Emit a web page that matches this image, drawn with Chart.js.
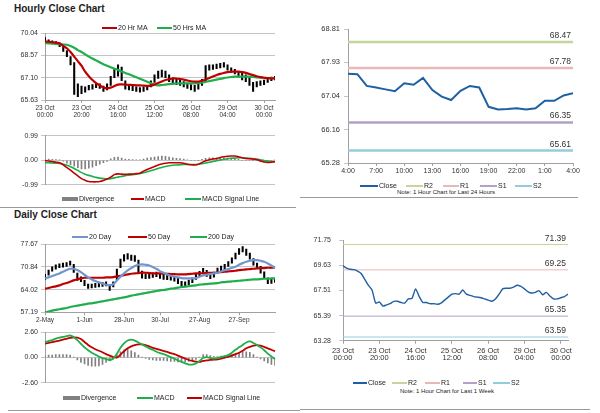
<!DOCTYPE html>
<html>
<head>
<meta charset="utf-8">
<script src="https://cdn.jsdelivr.net/npm/chart.js@4.4.0/dist/chart.umd.min.js"></script>
<style>
body { margin: 0; width: 600px; height: 413px; background: #fff; position: relative; overflow: hidden; font-family: "Liberation Sans", Arial, sans-serif; color: #222; }
canvas { position: absolute; }
.title { position: absolute; font-weight: bold; font-size: 10px; line-height: 12px; }
.lg { position: absolute; font-size: 7px; line-height: 8px; white-space: nowrap; color: #222; }
.mk { position: absolute; }
.note { position: absolute; font-size: 6px; line-height: 7px; white-space: nowrap; color: #222; transform: translateX(-50%); }
.sep { position: absolute; height: 1px; background: #9a9a9a; }
</style>
</head>
<body>
<div class="title" style="left:14px;top:3px">Hourly Close Chart</div>
<div class="title" style="left:14px;top:209px">Daily Close Chart</div>
<div class="sep" style="left:0;top:207px;width:296px"></div>
<div class="sep" style="left:300px;top:197px;width:278px"></div>
<div class="sep" style="left:8px;top:410px;width:292px"></div>
<div class="sep" style="left:300px;top:409px;width:290px"></div>

<canvas id="cA" width="290" height="100" style="left:0;top:25px"></canvas>
<canvas id="cB" width="290" height="64" style="left:0;top:128px"></canvas>
<canvas id="cC" width="290" height="160" style="left:300px;top:18px"></canvas>
<canvas id="cD" width="290" height="100" style="left:0;top:236px"></canvas>
<canvas id="cE" width="290" height="66" style="left:0;top:324px"></canvas>
<canvas id="cF" width="290" height="140" style="left:300px;top:228px"></canvas>

<div class="note" style="left:446px;top:189px">Note: 1 Hour Chart for Last 24 Hours</div>
<div class="note" style="left:447px;top:388px">Note: 1 Hour Chart for Last 1 Week</div>

<script>
// ---- hourly close chart, 2 hour steps from 23 Oct 00:00
const hrTickLabels = [['23 Oct', '00:00'], ['23 Oct', '20:00'], ['24 Oct', '16:00'], ['25 Oct', '12:00'], ['26 Oct', '08:00'], ['29 Oct', '04:00'], ['30 Oct', '00:00']];
const hrPriceTicks = [65.63, 67.10, 68.57, 70.04];
const hrLow = [69.45, 69.4, 69.35, 69.3, 69.15, 68.85, 68.5, 67.95, 66.0, 65.85,
    66.05, 66.15, 66.3, 66.35, 66.45, 66.4, 66.2, 66.3, 66.6, 67.1,
    67.2, 66.9, 66.35, 66.3, 66.25, 66.2, 66.15, 66.2, 66.3, 66.5,
    66.8, 67.05, 67.15, 67.1, 66.85, 66.7, 66.65, 66.6, 66.5, 66.4,
    66.3, 66.2, 66.35, 66.6, 66.9, 67.6, 67.65, 67.7, 67.75, 67.8,
    67.6, 67.45, 67.35, 67.15, 66.95, 66.85, 66.6, 66.2, 66.5, 66.6,
    66.65, 66.8, 66.9, 66.95];
const hrHigh = [69.75, 69.6, 69.55, 69.5, 69.4, 69.2, 68.9, 68.5, 68.1, 66.7,
    66.55, 66.5, 66.6, 66.65, 66.75, 66.7, 66.55, 66.7, 67.2, 67.7,
    67.95, 67.8, 66.9, 66.6, 66.55, 66.5, 66.45, 66.5, 66.6, 66.9,
    67.3, 67.55, 67.6, 67.55, 67.3, 67.1, 67.0, 66.95, 66.85, 66.75,
    66.65, 66.6, 66.7, 67.0, 67.9, 67.95, 67.95, 68.0, 68.05, 68.1,
    67.95, 67.75, 67.65, 67.5, 67.4, 67.3, 67.1, 66.8, 66.85, 66.9,
    66.95, 67.1, 67.15, 67.2];
const hrMA20 = [69.5, 69.48, 69.45, 69.42, 69.38, 69.2, 69.05, 68.8, 68.5, 68.2,
    67.9, 67.5, 67.2, 66.95, 66.75, 66.6, 66.45, 66.4, 66.45, 66.55,
    66.65, 66.66, 66.65, 66.63, 66.62, 66.6, 66.6, 66.58, 66.57, 66.58,
    66.65, 66.75, 66.85, 66.95, 67.0, 67.05, 67.05, 67.02, 66.98, 66.92,
    66.87, 66.84, 66.85, 66.9, 66.98, 67.08, 67.18, 67.28, 67.36, 67.42,
    67.47, 67.5, 67.5, 67.5, 67.47, 67.42, 67.35, 67.28, 67.2, 67.14,
    67.1, 67.07, 67.06, 67.07];
const hrMA50 = [69.4, 69.38, 69.36, 69.34, 69.32, 69.3, 69.28, 69.2, 69.08, 68.93,
    68.8, 68.65, 68.5, 68.38, 68.25, 68.12, 68.0, 67.9, 67.8, 67.7,
    67.62, 67.52, 67.42, 67.33, 67.24, 67.14, 67.04, 66.94, 66.84, 66.74,
    66.64, 66.6, 66.62, 66.65, 66.68, 66.7, 66.72, 66.73, 66.73, 66.73,
    66.73, 66.73, 66.74, 66.78, 66.83, 66.88, 66.93, 66.98, 67.03, 67.08,
    67.12, 67.15, 67.17, 67.18, 67.18, 67.18, 67.17, 67.15, 67.13, 67.11,
    67.1, 67.08, 67.07, 67.07];
const hrMacdTicks = [-0.99, 0, 0.99];
const hrMacd = [-0.02, -0.03, -0.05, -0.08, -0.1, -0.18, -0.3, -0.4, -0.52, -0.63,
    -0.74, -0.81, -0.86, -0.87, -0.87, -0.86, -0.82, -0.76, -0.68, -0.58,
    -0.55, -0.56, -0.57, -0.56, -0.56, -0.54, -0.52, -0.44, -0.37, -0.31,
    -0.25, -0.19, -0.15, -0.12, -0.1, -0.1, -0.1, -0.1, -0.12, -0.16,
    -0.18, -0.19, -0.16, -0.09, -0.02, 0.02, 0.05, 0.07, 0.11, 0.14,
    0.16, 0.17, 0.17, 0.14, 0.1, 0.07, 0.06, 0.05, 0.03, -0.03,
    -0.07, -0.09, -0.08, -0.05];
const hrSignal = [-0.1, -0.1, -0.11, -0.12, -0.13, -0.16, -0.2, -0.26, -0.33, -0.41,
    -0.5, -0.56, -0.61, -0.65, -0.69, -0.72, -0.74, -0.75, -0.74, -0.71,
    -0.68, -0.65, -0.62, -0.6, -0.58, -0.56, -0.53, -0.5, -0.46, -0.42,
    -0.38, -0.33, -0.29, -0.25, -0.22, -0.2, -0.19, -0.18, -0.17, -0.17,
    -0.17, -0.17, -0.16, -0.14, -0.11, -0.08, -0.05, -0.02, 0.01, 0.04,
    0.06, 0.08, 0.09, 0.1, 0.1, 0.09, 0.08, 0.06, 0.04, 0.02,
    -0.01, -0.03, -0.05, -0.07];
const hrDiv = [0.05, 0.05, 0.04, 0.03, 0.01, -0.04, -0.12, -0.18, -0.24, -0.3,
    -0.35, -0.35, -0.32, -0.28, -0.22, -0.16, -0.1, -0.05, 0.06, 0.12,
    0.13, 0.09, 0.05, 0.04, 0.03, 0.02, 0.02, 0.05, 0.09, 0.11,
    0.13, 0.15, 0.17, 0.16, 0.13, 0.1, 0.08, 0.07, 0.05, 0.02,
    0.0, -0.02, -0.01, 0.04, 0.08, 0.1, 0.1, 0.09, 0.1, 0.1,
    0.1, 0.09, 0.08, 0.04, 0.0, -0.02, -0.02, -0.01, -0.01, -0.05,
    -0.06, -0.06, -0.03, 0.02];

// ---- last 24 hours
const h24TickLabels = ['4:00', '7:00', '10:00', '13:00', '16:00', '19:00', '22:00', '1:00', '4:00'];
const h24Ticks = [65.28, 66.16, 67.04, 67.93, 68.81];
const h24Close = [67.63, 67.62, 67.31, 67.27, 67.22, 67.17, 67.38, 67.34, 67.52, 67.20,
    67.03, 66.94, 67.18, 67.31, 67.27, 66.76, 66.69, 66.70, 66.72, 66.69,
    66.72, 66.92, 66.92, 67.06, 67.12];
const h24Pivots = [68.47, 67.78, 66.35, 65.61]; // R2, R1, S1, S2

// ---- daily close chart, 2 trading day steps from 2-May
const dayTickLabels = ['2-May', '1-Jun', '28-Jun', '30-Jul', '27-Aug', '27-Sep'];
const dayTickIdx = [0, 11, 22, 32, 43, 54];
const dayPriceTicks = [57.19, 64.02, 70.84, 77.67];
const dayLow = [67.0, 68.4, 69.6, 70.2, 70.6, 70.8, 71.0, 71.4, 69.2, 66.8,
    66.4, 65.2, 64.4, 64.5, 64.7, 64.8, 65.0, 65.1, 63.8, 64.8,
    67.0, 70.6, 72.6, 73.2, 72.8, 72.5, 69.0, 67.5, 67.3, 67.4,
    67.7, 67.9, 67.4, 67.1, 67.0, 66.9, 66.6, 65.8, 64.9, 65.0,
    65.5, 66.1, 67.1, 68.0, 68.9, 68.0, 67.3, 67.8, 69.0, 69.6,
    70.1, 71.0, 72.0, 73.3, 74.6, 75.4, 74.3, 73.2, 71.4, 70.5,
    69.0, 67.3, 65.8, 65.9, 66.2];
const dayHigh = [68.6, 69.9, 70.9, 71.5, 71.8, 72.0, 72.2, 72.6, 71.6, 69.0,
    67.9, 66.8, 65.7, 65.7, 65.9, 66.0, 66.2, 66.4, 65.4, 66.4,
    70.2, 73.2, 74.6, 74.9, 74.4, 74.3, 72.9, 69.6, 68.8, 68.8,
    69.1, 69.3, 68.9, 68.6, 68.4, 68.3, 68.1, 67.4, 66.5, 66.4,
    66.9, 67.6, 68.6, 69.5, 70.4, 69.8, 68.8, 69.3, 70.5, 71.1,
    71.6, 72.5, 73.6, 75.0, 76.4, 77.0, 76.2, 75.0, 73.4, 72.0,
    71.0, 69.4, 67.6, 67.3, 67.5];
const dayMA20 = [67.4, 67.7, 68.1, 68.5, 68.9, 69.4, 69.9, 70.3, 70.3, 69.9,
    69.3, 68.5, 67.7, 67.1, 66.6, 66.2, 65.9, 65.5, 65.4, 65.6,
    66.8, 67.9, 68.9, 69.8, 70.5, 71.1, 71.5, 71.6, 71.5, 71.3,
    70.8, 70.3, 69.6, 69.1, 68.6, 68.2, 67.9, 67.7, 67.5, 67.4,
    67.4, 67.4, 67.5, 67.9, 68.3, 68.5, 68.7, 68.9, 69.1, 69.5,
    69.9, 70.2, 70.6, 70.9, 71.5, 72.0, 72.4, 72.7, 72.9, 72.9,
    72.7, 72.4, 71.9, 71.3, 70.6];
const dayMA50 = [64.3, 64.5, 64.8, 65.0, 65.3, 65.7, 66.0, 66.4, 66.8, 67.1,
    67.4, 67.6, 67.6, 67.6, 67.6, 67.6, 67.6, 67.7, 67.7, 67.8,
    68.0, 68.2, 68.4, 68.6, 68.8, 68.9, 69.0, 69.1, 69.1, 69.0,
    68.9, 68.9, 68.9, 68.8, 68.8, 68.7, 68.7, 68.6, 68.6, 68.6,
    68.7, 68.8, 68.9, 68.9, 69.0, 69.0, 69.1, 69.1, 69.2, 69.3,
    69.4, 69.5, 69.6, 69.7, 69.9, 70.0, 70.1, 70.2, 70.3, 70.4,
    70.5, 70.5, 70.6, 70.6, 70.7];
const dayMA200 = [57.2, 57.4, 57.7, 57.9, 58.1, 58.3, 58.5, 58.8, 59.0, 59.2,
    59.4, 59.6, 59.8, 59.9, 60.1, 60.3, 60.5, 60.7, 60.9, 61.1,
    61.3, 61.5, 61.7, 61.9, 62.2, 62.4, 62.6, 62.8, 63.0, 63.2,
    63.4, 63.6, 63.8, 63.9, 64.1, 64.3, 64.4, 64.6, 64.8, 64.9,
    65.1, 65.2, 65.3, 65.5, 65.6, 65.7, 65.8, 65.9, 66.0, 66.2,
    66.3, 66.4, 66.5, 66.6, 66.7, 66.8, 66.9, 67.0, 67.1, 67.1,
    67.2, 67.3, 67.3, 67.4, 67.4];
const dayMacdTicks = [-2.60, 0, 2.60];
const dayMacd = [1.6, 1.7, 1.8, 1.95, 2.05, 2.12, 2.2, 2.27, 2.1, 1.8,
    1.4, 1.05, 0.75, 0.5, 0.3, 0.1, -0.05, -0.15, -0.25, -0.1,
    0.4, 1.0, 1.45, 1.75, 1.85, 1.75, 1.55, 1.35, 1.15, 0.95,
    0.8, 0.6, 0.45, 0.35, 0.2, 0.05, -0.1, -0.3, -0.45, -0.6,
    -0.72, -0.72, -0.6, -0.35, -0.05, 0.05, -0.05, -0.1, -0.05, 0.05,
    0.15, 0.25, 0.5, 0.8, 1.05, 1.3, 1.55, 1.66, 1.5, 1.3,
    1.05, 0.75, 0.4, 0.1, -0.15];
const daySignal = [1.44, 1.5, 1.58, 1.66, 1.75, 1.84, 1.93, 2.02, 2.08, 2.05,
    1.9, 1.6, 1.3, 1.05, 0.85, 0.7, 0.55, 0.35, 0.2, 0.05,
    0.0, 0.3, 0.65, 0.95, 1.15, 1.28, 1.35, 1.35, 1.28, 1.15,
    1.0, 0.9, 0.78, 0.68, 0.58, 0.45, 0.35, 0.2, 0.05, -0.1,
    -0.25, -0.35, -0.42, -0.45, -0.35, -0.3, -0.25, -0.22, -0.18, -0.1,
    0.0, 0.1, 0.2, 0.35, 0.5, 0.7, 0.95, 1.1, 1.22, 1.28,
    1.22, 1.1, 0.95, 0.8, 0.64];
const dayDiv = [0.2, 0.25, 0.25, 0.3, 0.3, 0.3, 0.3, 0.25, 0.05, -0.25,
    -0.5, -0.65, -0.8, -0.9, -0.9, -0.85, -0.7, -0.5, -0.35, -0.15,
    0.3, 0.6, 0.8, 0.85, 0.7, 0.5, 0.25, 0.05, -0.1, -0.2,
    -0.25, -0.3, -0.3, -0.3, -0.35, -0.4, -0.4, -0.45, -0.45, -0.45,
    -0.4, -0.35, -0.2, 0.05, 0.3, 0.3, 0.2, 0.1, 0.1, 0.15,
    0.15, 0.2, 0.3, 0.4, 0.5, 0.6, 0.6, 0.55, 0.3, 0.05,
    -0.15, -0.35, -0.55, -0.7, -0.8];

// ---- last week, 2 hour steps
const wkTickLabels = [['23 Oct', '00:00'], ['23 Oct', '20:00'], ['24 Oct', '16:00'], ['25 Oct', '12:00'], ['26 Oct', '08:00'], ['29 Oct', '04:00'], ['30 Oct', '00:00']];
const wkTicks = [63.28, 65.39, 67.51, 69.63, 71.75];
const wkClose = [69.6, 69.4, 69.3, 69.27, 69.15, 68.95, 68.45, 67.95, 67.55, 66.45,
    66.55, 66.2, 66.3, 66.4, 66.6, 66.6, 66.5, 66.45, 66.8, 66.85,
    67.65, 67.0, 66.5, 66.5, 66.4, 66.4, 66.35, 66.45, 66.7, 66.95,
    67.2, 67.25, 67.2, 67.55, 67.2, 67.1, 67.0, 66.95, 66.9, 66.8,
    66.7, 66.6, 66.8, 67.2, 67.65, 67.7, 67.7, 67.8, 67.95, 67.85,
    67.65, 67.4, 67.3, 67.35, 67.5, 67.15, 67.35, 67.05, 66.8, 66.8,
    66.9, 67.0, 67.2];
const wkPivots = [71.39, 69.25, 65.35, 63.59]; // R2, R1, S1, S2

const RED = '#c00000', GREEN = '#1fae4b', BLUE = '#6f96cd', CLOSE = '#1f5fa3', DIV = '#808080';
const PIV = ['#c3d69b', '#e6b9b8', '#b3a2c7', '#93cddd'];
const PIVNAMES = ['R2', 'R1', 'S1', 'S2'];
const GRID = '#c4c4c4', AXIS = '#a0a0a0';

Chart.defaults.font.family = '"Liberation Sans", Arial, sans-serif';
Chart.defaults.font.size = 7;
Chart.defaults.color = '#333';

// labels drawn above the pivot lines at the right end
const pivotLabels = {
    id: 'pivotLabels',
    afterDatasetsDraw(chart, args, o) {
        const ctx = chart.ctx;
        ctx.save();
        ctx.font = o.size + 'px "Liberation Sans", Arial';
        ctx.fillStyle = '#333';
        ctx.textAlign = 'right';
        ctx.textBaseline = 'bottom';
        o.values.forEach(v => ctx.fillText(v.toFixed(2), chart.chartArea.right - 2, chart.scales.y.getPixelForValue(v) - 2));
        ctx.restore();
    }
};

function yScale(ticks, width, grid, tickPad, size) {
    return {
        min: ticks[0], max: ticks[ticks.length - 1],
        afterBuildTicks(a) { a.ticks = ticks.map(v => ({ value: v })); },
        afterFit(a) { a.width = width; },
        ticks: { callback: v => v.toFixed(2), padding: tickPad, font: { size: size } },
        grid: { color: GRID, drawOnChartArea: grid, tickLength: 4 },
        border: { color: AXIS }
    };
}

function xScale(height, cb, size, pad, lh) {
    return {
        offset: false,
        afterFit(a) { a.height = height; },
        ticks: { autoSkip: false, maxRotation: 0, padding: pad, callback: cb, font: { size: size, lineHeight: lh } },
        grid: { drawOnChartArea: false, tickLength: 3, color: AXIS, offset: false },
        border: { color: AXIS }
    };
}

function baseOptions(pad, scales, extra) {
    return Object.assign({
        responsive: false, animation: false, events: [],
        layout: { padding: pad },
        plugins: { legend: { display: false }, tooltip: { enabled: false } },
        scales: scales
    }, extra || {});
}

function line(data, color, width, order) {
    return { type: 'line', data: data, borderColor: color, borderWidth: width, pointRadius: 0, tension: 0.35, order: order, fill: false };
}

function pivotSets(values, n, width) {
    return values.map((v, k) => ({
        type: 'line', label: PIVNAMES[k],
        data: [{ x: 0, y: v }, { x: n - 1, y: v }],
        borderColor: PIV[k], borderWidth: width, pointRadius: 0, order: 5
    }));
}

// hourly price
new Chart(document.getElementById('cA'), {
    type: 'bar',
    data: {
        labels: hrLow.map((v, i) => i),
        datasets: [
            line(hrMA20, RED, 2.2, 0),
            line(hrMA50, GREEN, 2.2, 1),
            { data: hrLow.map((v, i) => [v, hrHigh[i]]), backgroundColor: '#000', barThickness: 1.4, order: 2 }
        ]
    },
    options: baseOptions({ left: 0, right: 15, top: 8.3, bottom: 0 }, {
        x: xScale(25, (v, i) => i % 10 === 0 ? hrTickLabels[i / 10] : null, 6.5, 1, 1.2),
        y: yScale(hrPriceTicks, 45, true, 3, 7)
    })
});

// hourly MACD
new Chart(document.getElementById('cB'), {
    type: 'bar',
    data: {
        labels: hrMacd.map((v, i) => i),
        datasets: [
            line(hrMacd, RED, 1.6, 0),
            line(hrSignal, GREEN, 1.6, 1),
            { data: hrDiv, backgroundColor: DIV, barThickness: 1, order: 2 }
        ]
    },
    options: baseOptions({ left: 0, right: 15, top: 7.7, bottom: 3 }, {
        x: { display: false, offset: false },
        y: yScale(hrMacdTicks, 45, true, 3, 7)
    })
});

// last 24 hours with pivots
new Chart(document.getElementById('cC'), {
    type: 'line',
    data: {
        labels: h24Close.map((v, i) => i),
        datasets: [{ data: h24Close, borderColor: CLOSE, borderWidth: 2, pointRadius: 0, tension: 0, order: 0 }]
            .concat(pivotSets(h24Pivots, h24Close.length, 2.5))
    },
    plugins: [pivotLabels],
    options: baseOptions({ left: 0, right: 17, top: 11, bottom: 0 }, {
        x: Object.assign(xScale(15, null, 7, 1, 1), { type: 'linear', min: 0, max: 24, afterBuildTicks(a) { a.ticks = h24TickLabels.map((t, k) => ({ value: k * 3 })); }, ticks: { autoSkip: false, maxRotation: 0, padding: 1, callback: (v) => h24TickLabels[v / 3], font: { size: 7 } } }),
        y: yScale(h24Ticks, 48, false, 4, 7.5)
    }, { plugins: { legend: { display: false }, tooltip: { enabled: false }, pivotLabels: { values: h24Pivots, size: 8.5 } } })
});

// daily price
new Chart(document.getElementById('cD'), {
    type: 'bar',
    data: {
        labels: dayLow.map((v, i) => i),
        datasets: [
            line(dayMA20, BLUE, 2.2, 0),
            line(dayMA50, RED, 2.2, 1),
            line(dayMA200, GREEN, 2.2, 1),
            { data: dayLow.map((v, i) => [v, dayHigh[i]]), backgroundColor: '#000', barThickness: 1.4, order: 3 }
        ]
    },
    options: baseOptions({ left: 0, right: 15, top: 8.3, bottom: 0 }, {
        x: xScale(23.7, (v, i) => dayTickIdx.includes(i) ? dayTickLabels[dayTickIdx.indexOf(i)] : null, 6.5, 1, 1.2),
        y: yScale(dayPriceTicks, 45, true, 3, 7)
    })
});

// daily MACD
new Chart(document.getElementById('cE'), {
    type: 'bar',
    data: {
        labels: dayMacd.map((v, i) => i),
        datasets: [
            line(dayMacd, GREEN, 1.8, 0),
            line(daySignal, RED, 1.8, 1),
            { data: dayDiv, backgroundColor: DIV, barThickness: 1, order: 2 }
        ]
    },
    options: baseOptions({ left: 0, right: 15, top: 8.3, bottom: 4 }, {
        x: { display: false, offset: false },
        y: yScale(dayMacdTicks, 45, true, 3, 7)
    })
});

// last week with pivots
new Chart(document.getElementById('cF'), {
    type: 'line',
    data: {
        labels: wkClose.map((v, i) => i),
        datasets: [{ data: wkClose, borderColor: CLOSE, borderWidth: 1.4, pointRadius: 0, tension: 0.2, order: 0 }]
            .concat(pivotSets(wkPivots, wkClose.length, 1))
    },
    plugins: [pivotLabels],
    options: baseOptions({ left: 0, right: 22, top: 9.3, bottom: 0 }, {
        x: Object.assign(xScale(27.3, null, 7.5, 3, 1), { type: 'linear', min: 0, max: wkClose.length - 1, afterBuildTicks(a) { a.ticks = wkTickLabels.map((t, k) => ({ value: k * 10 })); }, ticks: { autoSkip: false, maxRotation: 0, padding: 3, callback: (v) => wkTickLabels[v / 10], font: { size: 7.5, lineHeight: 1 } } }),
        y: yScale(wkTicks, 43, false, 8, 7)
    }, { plugins: { legend: { display: false }, tooltip: { enabled: false }, pivotLabels: { values: wkPivots, size: 8.5 } } })
});

// html legends: [x of marker, marker width, colour, text, box?]
function legend(top, items) {
    items.forEach(([x, w, color, text, box]) => {
        const m = document.createElement('div');
        m.className = 'mk';
        const h = box ? 4 : 2;
        m.style.cssText = 'left:' + x + 'px;top:' + (top - h / 2) + 'px;width:' + w + 'px;height:' + h + 'px;background:' + color;
        document.body.appendChild(m);
        const t = document.createElement('div');
        t.className = 'lg';
        t.style.left = (x + w + 1) + 'px';
        t.style.top = (top - 4) + 'px';
        t.textContent = text;
        document.body.appendChild(t);
    });
}
legend(27.5, [[102, 15, RED, '20 Hr MA'], [157, 15, GREEN, '50 Hrs MA']]);
legend(199, [[62, 16, DIV, 'Divergence', true], [131, 13, RED, 'MACD'], [185, 16, GREEN, 'MACD Signal Line']]);
legend(186, [[360, 18, CLOSE, 'Close'], [406, 17, PIV[0], 'R2'], [443, 16, PIV[1], 'R1'], [480, 17, PIV[2], 'S1'], [515, 17, PIV[3], 'S2']]);
legend(236.5, [[72, 16, BLUE, '20 Day'], [128, 19, RED, '50 Day'], [190, 17, GREEN, '200 Day']]);
legend(398, [[63, 17, DIV, 'Divergence', true], [137, 16, GREEN, 'MACD'], [187, 15, RED, 'MACD Signal Line']]);
legend(383, [[353, 14, CLOSE, 'Close'], [392, 15, PIV[0], 'R2'], [425, 15, PIV[1], 'R1'], [463, 14, PIV[2], 'S1'], [493, 17, PIV[3], 'S2']]);
</script>
</body>
</html>
